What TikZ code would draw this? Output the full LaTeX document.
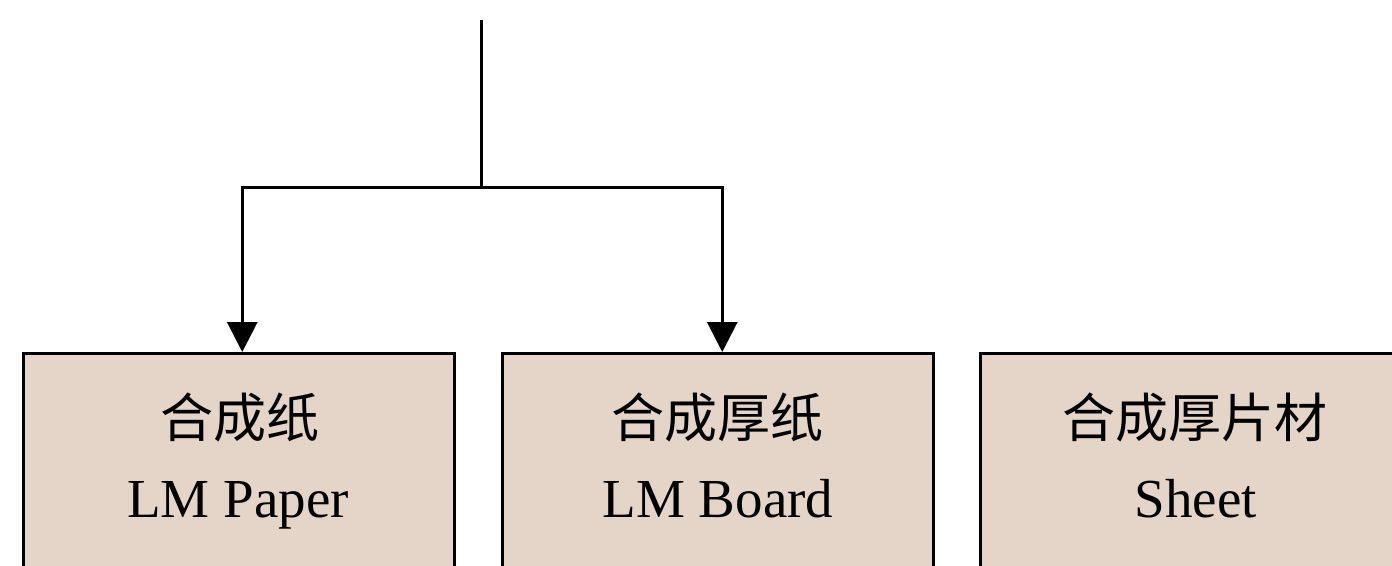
\documentclass[tikz,border=0pt]{standalone}
\usepackage{fontspec}
\setmainfont{Liberation Serif}
\newfontfamily\cjk{Noto Sans CJK SC}
\usetikzlibrary{arrows.meta}
\definecolor{boxfill}{RGB}{229,213,201}
\begin{document}
\begin{tikzpicture}[x=1pt,y=-1pt,
  box/.style={draw=black, line width=2.5pt, fill=boxfill, minimum width=431pt, minimum height=260pt, anchor=north west, inner sep=0pt},
  conn/.style={line width=3pt},
  arr/.style={conn,-{Triangle[width=30pt,length=30pt]}},
  cjklbl/.style={font=\cjk\fontsize{53}{60}\selectfont, inner sep=0pt, anchor=center},
  latlbl/.style={font=\fontsize{55}{60}\selectfont, inner sep=0pt, anchor=base}]
\useasboundingbox (0,0) rectangle (1392,565);
\clip (0,0) rectangle (1392,565);
\node[box] (b1) at (22,352) {};
\node[box] (b2) at (501,352) {};
\node[box] (b3) at (979,352) {};
\node[cjklbl] (c1) at (240,417) {合成纸};
\node[latlbl] (l1) at (238,517) {LM Paper};
\node[cjklbl] (c2) at (717,417) {合成厚纸};
\node[latlbl] (l2) at (718,517) {LM Board};
\node[cjklbl] (c3) at (1195,417) {合成厚片材};
\node[latlbl] (l3) at (1196,517) {Sheet};
\coordinate (top) at (481,20);
\coordinate (j) at (481,187);
\draw[conn] (top) -- (j);
\draw[arr] (j) -| ([xshift=3.5pt]b1.north);
\draw[arr] (j) -| ([xshift=4.5pt]b2.north);
\end{tikzpicture}
\end{document}
